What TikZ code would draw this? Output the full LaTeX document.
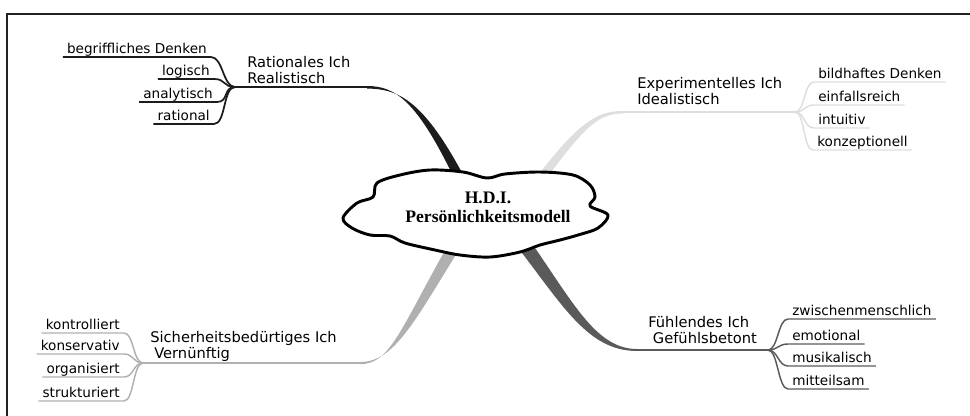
\documentclass[tikz,border=0pt]{standalone}
\usepackage{fontspec}
\setmainfont{DejaVu Sans}
\newfontfamily\cloudfont{Liberation Serif}
\definecolor{ulc}{HTML}{1C1C1C}
\definecolor{urc}{HTML}{DEDEDE}
\definecolor{llc}{HTML}{B0B0B0}
\definecolor{lrc}{HTML}{5A5A5A}
\definecolor{framec}{HTML}{222222}
\begin{document}
\begin{tikzpicture}[x=0.75pt,y=-0.75pt,
  subitem/.style={font=\fontsize{10.2}{12}\selectfont, inner xsep=3pt, inner ysep=2.8pt, text depth=0pt},
  mainlabel/.style={font=\fontsize{11}{12}\selectfont, inner sep=0pt, align=left, anchor=north west},
  ulsub/.style={draw=ulc, line width=1.3pt},
  ursub/.style={draw=urc, line width=1.1pt},
  llsub/.style={draw=llc, line width=1.1pt},
  lrsub/.style={draw=lrc, line width=1.1pt},
  cloudline/.style={draw=black, fill=white, line width=2.2pt, line join=round},
  frameline/.style={draw=framec, line width=1.5pt}]
\useasboundingbox (0,0) rectangle (970,415);
\draw[frameline] (975,14) -- (7,14) -- (7,420);

% hubs
\coordinate (hR) at (235,87);  \coordinate (hRb) at (367,87);
\coordinate (hE) at (795,112); \coordinate (hEb) at (623,112);
\coordinate (hS) at (143,363); \coordinate (hSb) at (360,363);
\coordinate (hF) at (768,350); \coordinate (hFb) at (637,350);

% main branches
\draw[ulc, line width=1.6pt] (hR) -- (hRb);
\fill[ulc] (367,86) .. controls (395,86) and (417,100) .. (456,182) -- (467,182) .. controls (425,102) and (400,88.6) .. (367,88.6) -- cycle;
\draw[urc, line width=1.6pt] (hEb) -- (hE);
\fill[urc] (623,111) .. controls (597,111) and (578,122) .. (533,182) -- (544,182) .. controls (586,124) and (600,113.5) .. (623,113.5) -- cycle;
\draw[llc, line width=1.3pt] (hS) -- (hSb);
\fill[llc] (360,362) .. controls (395,362) and (415,320) .. (462,245) -- (448,245) .. controls (400,330) and (390,364.2) .. (360,364.2) -- cycle;
\draw[lrc, line width=1.3pt] (hFb) -- (hF);
\fill[lrc] (508,235) .. controls (560,300) and (585,351) .. (637,351) -- (637,349) .. controls (595,349) and (572,300) .. (526,235) -- cycle;

% cloud
\draw[cloudline] plot[smooth cycle, tension=0.55] coordinates {(343,218) (357,203) (373,197) (377,183) (400,175) (430,170) (463,172) (487,178) (505,174) (540,172) (573,175) (590,185) (595,197) (590,206) (608,215) (598,228) (578,235) (560,240) (540,245) (520,252) (490,257) (460,255) (435,250) (405,243) (390,236) (370,235) (352,228)};
\node[font=\cloudfont\bfseries\fontsize{13.2}{14.5}\selectfont, align=center, inner sep=0pt] (center) at (488,207) {H.D.I.\\Persönlichkeitsmodell};

% main labels
\node[mainlabel] (rat) at (247,56.5) {Rationales Ich\\Realistisch};
\node[mainlabel] (exp) at (637,77.5) {Experimentelles Ich\\Idealistisch};
\node[mainlabel] (sic) at (150,331.5) {Sicherheitsbedürtiges Ich\\\hspace*{3pt}Vernünftig};
\node[mainlabel] (fue) at (648,316.5) {Fühlendes Ich\\\hspace*{3.5pt}Gefühlsbetont};

% upper left items
\node[subitem, anchor=base east] (r1) at (211,53) {begriffliches Denken};
\node[subitem, anchor=base east] (r2) at (214,75) {logisch};
\node[subitem, anchor=base east] (r3) at (217,98) {analytisch};
\node[subitem, anchor=base east] (r4) at (214,120) {rational};
\foreach \n in {r1,r2,r3,r4}
  \draw[ulsub] (hR) .. controls +(-12,0) and +(12,0) .. (\n.south east) -- (\n.south west);

% upper right items
\node[subitem, anchor=base west] (e1) at (814,78) {bildhaftes Denken};
\node[subitem, anchor=base west] (e2) at (814,101) {einfallsreich};
\node[subitem, anchor=base west] (e3) at (814,124) {intuitiv};
\node[subitem, anchor=base west] (e4) at (813,146) {konzeptionell};
\foreach \n in {e1,e2,e3,e4}
  \draw[ursub] (hE) .. controls +(10,0) and +(-10,0) .. (\n.south west) -- (\n.south east);

% lower left items
\node[subitem, anchor=base east] (s1) at (124,329) {kontrolliert};
\node[subitem, anchor=base east] (s2) at (124,350) {konservativ};
\node[subitem, anchor=base east] (s3) at (124,373) {organisiert};
\node[subitem, anchor=base east] (s4) at (124,397) {strukturiert};
\foreach \n in {s1,s2,s3,s4}
  \draw[llsub] (hS) .. controls +(-10,0) and +(10,0) .. (\n.south east) -- (\n.south west);

% lower right items
\node[subitem, anchor=base west] (f1) at (788,315) {zwischenmenschlich};
\node[subitem, anchor=base west] (f2) at (788,340) {emotional};
\node[subitem, anchor=base west] (f3) at (788,362) {musikalisch};
\node[subitem, anchor=base west] (f4) at (788,385) {mitteilsam};
\foreach \n in {f1,f2,f3,f4}
  \draw[lrsub] (hF) .. controls +(10,0) and +(-10,0) .. (\n.south west) -- (\n.south east);
\end{tikzpicture}
\end{document}
